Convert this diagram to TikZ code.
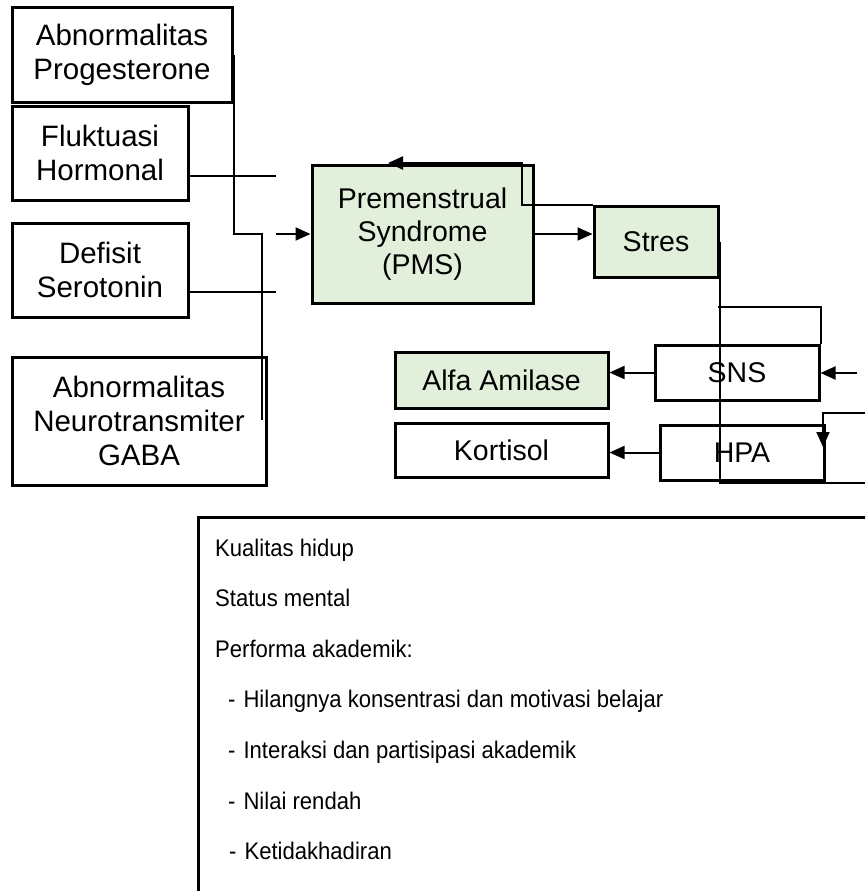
\documentclass[tikz,border=0pt]{standalone}
\usepackage{fontspec}
\setmainfont{Liberation Sans}
\newfontfamily\itemfont[FakeStretch=0.92]{Liberation Sans}
\usetikzlibrary{arrows.meta,positioning}
\definecolor{pmsgreen}{RGB}{226,239,218}

\begin{document}
\begin{tikzpicture}[x=1pt,y=-1pt,
  box/.style={draw,line width=3pt,align=center,inner sep=0pt,font=\fontsize{29.5}{34}\selectfont},
  small/.style={box,font=\fontsize{28.5}{33}\selectfont},
  item/.style={anchor=base west,inner sep=0pt,font=\itemfont\fontsize{24}{28}\selectfont},
  line/.style={line width=2pt},
  >={Triangle[length=15pt,width=13pt]}]
\useasboundingbox (0,0) rectangle (865,891);
\clip (0,0) rectangle (865,891);
% causes
\node[box,minimum width=220pt,minimum height=94pt] (prog) at (122,55) {Abnormalitas\\Progesterone};
\node[box,minimum width=176pt,minimum height=94pt] (fluk) at (100,153) {Fluktuasi\\Hormonal};
\node[box,minimum width=176pt,minimum height=94pt] (sero) at (100,270) {Defisit\\Serotonin};
\node[box,minimum width=254pt,minimum height=128pt] (gaba) at (139,421) {Abnormalitas\\Neurotransmiter\\GABA};
% PMS and stress
\node[small,fill=pmsgreen,minimum width=221pt,minimum height=138pt] (pms) at (422.5,234) {Premenstrual\\Syndrome\\(PMS)};
\node[small,fill=pmsgreen,minimum width=124pt,minimum height=71pt] (stres) at (656,241.5) {Stres};
\node[small,minimum width=164pt,minimum height=55pt] (sns) at (737,372.5) {SNS};
\node[small,minimum width=164pt,minimum height=55pt] (hpa) at (742,452.5) {HPA};
\node[small,fill=pmsgreen,minimum width=213pt,minimum height=56pt] (alfa) at (501.5,380) {Alfa Amilase};
\node[small,minimum width=213pt,minimum height=54pt] (kort) at (501.5,450) {Kortisol};
% effects
\node[draw,line width=3pt,anchor=north west,minimum width=700pt,minimum height=420pt] (outcome) at (197,516) {};
\foreach \dx/\txt [count=\i] in {0/Kualitas hidup,0/Status mental,0/Performa akademik:,13/-\hspace{8pt}Hilangnya konsentrasi dan motivasi belajar,13/-\hspace{8pt}Interaksi dan partisipasi akademik,13/-\hspace{8pt}Nilai rendah,14/-\hspace{8pt}Ketidakhadiran}
  \node[item] (effect\i) at (215+\dx,556+50.6*\i-50.6) {\txt};

% connectors
\coordinate (fIn) at (276,176);
\coordinate (sIn) at (276,292);
\coordinate (pIn) at (276,234);
\coordinate (gEnd) at (262,420);
\coordinate (fbEnd) at (388,163);
\coordinate (snsIn) at (857,373);
\coordinate (hpaIn) at (865,413);
\draw[line] (prog.east) |- (gEnd |- pIn) -- (gEnd);
\draw[line] (fIn -| fluk.east) -- (fIn);
\draw[line] (sIn -| sero.east) -- (sIn);
\draw[line,->] (pIn) -- (pms.west);
\draw[line,->] (pms.east) -- (pms.east -| stres.west);
\draw[line,->] (stres.north west) -| (522,163) -- (fbEnd);
\draw[line] (stres.east) |- (865,483);
\draw[line] (718,307) -| (sns.north east);
\draw[line,->] (snsIn) -- (sns.east |- snsIn);
\draw[line,->] (sns.west) -- (sns.west -| alfa.east);
\draw[line,->] (hpa.west) -- (hpa.west -| kort.east);
\draw[line,->] (hpaIn) -| (823,447);
\end{tikzpicture}
\end{document}
